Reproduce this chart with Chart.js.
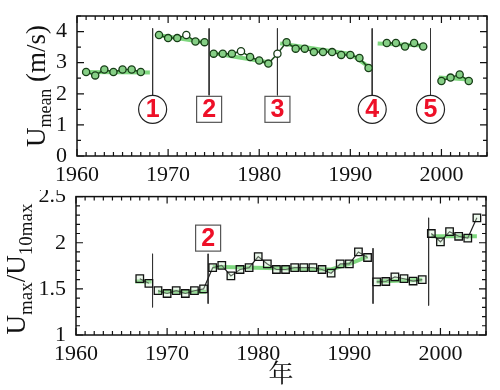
<!DOCTYPE html>
<html><head><meta charset="utf-8">
<script src="https://cdn.jsdelivr.net/npm/chart.js@4"></script>
<style>
html,body{margin:0;padding:0;background:#fff;width:500px;height:390px;overflow:hidden}
canvas{position:absolute;left:0}
#c1{top:0}#c2{top:190px}
</style></head><body>
<canvas id="c1" width="500" height="190"></canvas>
<canvas id="c2" width="500" height="200"></canvas>
<script>
// ---------- data ----------
const meanYears = [1961,1962,1963,1964,1965,1966,1967,
  1969,1970,1971,1972,1973,1974,
  1975,1976,1977,1978,1979,1980,1981,1982,1983,1984,1985,1986,1987,1988,1989,1990,1991,1992,
  1994,1995,1996,1997,1998,
  2000,2001,2002,2003];
const meanValues = [2.70,2.59,2.78,2.70,2.78,2.78,2.70,
  3.89,3.79,3.79,3.89,3.68,3.66,
  3.29,3.29,3.29,3.37,3.18,3.07,2.97,3.29,3.66,3.45,3.45,3.34,3.34,3.34,3.25,3.25,3.15,2.83,
  3.63,3.63,3.52,3.63,3.52,
  2.41,2.52,2.62,2.41];
const meanSegmentStarts = [1961,1969,1975,1994,2000];
const meanOpenYears = [1972,1978,1982];
const meanTrendYears = [[1960.6,1968],[1969,1974.3],[1975,1981.3],[1982.3,1990,1992],[1993,1998],[1999.7,2003]];
const meanTrendValues = [[2.70,2.68],[3.88,3.64],[3.30,3.00],[3.62,3.28,2.87],[3.62,3.55],[2.52,2.46]];
const meanBreakYears = [1968.3,1974.5,1982.0,1992.4,1998.8];
const meanBreakLabels = ['1','2','3','4','5'];
const meanBreakShapes = ['circle','box','box','circle','circle'];

const ratioYears = [1967,1968,
  1969,1970,1971,1972,1973,1974,1975,1976,1977,1978,1979,1980,1981,1982,1983,1984,1985,1986,1987,1988,1989,1990,1991,1992,
  1993,1994,1995,1996,1997,1998,
  1999,2000,2001,2002,2003,2004];
const ratioValues = [1.61,1.56,
  1.48,1.45,1.48,1.45,1.48,1.50,1.73,1.755,1.64,1.71,1.73,1.85,1.77,1.71,1.71,1.73,1.73,1.73,1.71,1.67,1.77,1.77,1.90,1.84,
  1.575,1.58,1.63,1.61,1.585,1.60,
  2.10,2.01,2.12,2.07,2.05,2.27];
const ratioSegmentStarts = [1967,1969,1993,1999];
const ratioTrendYears = [[1966.5,1968.3],[1969,1974.3],[1975,1988,1990,1992],[1993,1998],[1999,2004]];
const ratioTrendValues = [[1.58,1.58],[1.47,1.47],[1.74,1.71,1.77,1.85],[1.58,1.60],[2.07,2.07]];
const ratioBreakYears = [1968.4,1974.5,1992.6,1998.7];
const ratioBreakLow = [1.30,1.34,1.34,1.32];
const ratioBreakHigh = [1.88,1.88,1.94,2.27];
const ratioLabelYears = [1974.5];
const ratioLabelTexts = ['2'];

const xTickYears = [1960,1970,1980,1990,2000];

// ---------- helpers ----------
const SERIF = '"Liberation Serif"';
function splitSegments(xs, ys, starts){
  const segs=[]; let cur=null;
  xs.forEach((x,i)=>{ if(starts.includes(x)){cur=[];segs.push(cur);} cur.push({x:x,y:ys[i]}); });
  return segs;
}
function trendSets(tx, ty){
  return tx.map((arr,k)=>({type:'line',data:arr.map((x,i)=>({x:x,y:ty[k][i]})),
    borderColor:'rgba(95,205,95,0.8)',borderWidth:4,pointRadius:0,order:3,tension:0}));
}
function frameTicksPlugin(yMajor, yMinor, yMin, yMax){
  return {id:'frameTicks', afterDatasetsDraw(chart){
    const {ctx, chartArea:a, scales:{x,y}} = chart;
    ctx.save();
    ctx.strokeStyle='#111'; ctx.lineWidth=1.5;
    ctx.strokeRect(a.left,a.top,a.right-a.left,a.bottom-a.top);
    ctx.lineWidth=1.2; ctx.beginPath();
    for(let yr=1960; yr<=2005; yr++){
      const px=x.getPixelForValue(yr); const L=(yr%10===0)?7:4;
      ctx.moveTo(px,a.bottom); ctx.lineTo(px,a.bottom-L);
      ctx.moveTo(px,a.top); ctx.lineTo(px,a.top+L);
    }
    const n=Math.round((yMax-yMin)/yMinor);
    for(let i=0;i<=n;i++){
      const v=yMin+i*yMinor; const py=y.getPixelForValue(v);
      const r=v/yMajor; const L=(Math.abs(r-Math.round(r))<1e-6)?7:4;
      ctx.moveTo(a.left,py); ctx.lineTo(a.left+L,py);
      ctx.moveTo(a.right,py); ctx.lineTo(a.right-L,py);
    }
    ctx.stroke(); ctx.restore();
  }};
}
function drawLabel(ctx, px, py, txt, shape){
  ctx.save();
  if(shape==='circle'){
    ctx.beginPath(); ctx.arc(px,py,14,0,Math.PI*2);
    ctx.fillStyle='#fff'; ctx.fill(); ctx.strokeStyle='#222'; ctx.lineWidth=1.2; ctx.stroke();
  } else {
    ctx.fillStyle='#fff'; ctx.fillRect(px-12.5,py-13,25,26);
    ctx.strokeStyle='#555'; ctx.lineWidth=1.2; ctx.strokeRect(px-12.5,py-13,25,26);
  }
  ctx.fillStyle='#ee1028'; ctx.font='bold 25px "Liberation Sans"';
  ctx.textAlign='center'; ctx.textBaseline='middle';
  ctx.fillText(txt,px,py+1);
  ctx.restore();
}
function drawYTitle(ctx, bx, cy, parts){
  ctx.save();
  ctx.translate(bx,cy); ctx.rotate(-Math.PI/2);
  let total=0;
  parts.forEach(p=>{ctx.font=p.size+'px '+SERIF; p.w=ctx.measureText(p.t).width; total+=p.w;});
  let xx=-total/2;
  ctx.fillStyle='#111'; ctx.textBaseline='alphabetic'; ctx.textAlign='left';
  parts.forEach(p=>{ctx.font=p.size+'px '+SERIF; ctx.fillText(p.t,xx,p.dy||0); xx+=p.w;});
  ctx.restore();
}
function xScale(heightPx){
  return {type:'linear',min:1960,max:2005,
    afterBuildTicks(s){ s.ticks = xTickYears.map(v=>({value:v})); },
    afterFit(s){ s.height=heightPx; s.paddingLeft=0; s.paddingRight=0; },
    grid:{display:false,drawTicks:false}, border:{display:false},
    ticks:{padding:6,color:'#111',font:{family:SERIF,size:22},maxRotation:0,autoSkip:false,callback:v=>String(v)}};
}

// ---------- top chart ----------
const meanSegs = splitSegments(meanYears, meanValues, meanSegmentStarts);
const topSets = [];
meanSegs.forEach(seg=>topSets.push({type:'line',data:seg,borderColor:'#1d4f1d',borderWidth:1.5,
  pointRadius:3.6,pointBorderWidth:1.3,pointBorderColor:'#173d17',
  pointBackgroundColor:seg.map(p=>meanOpenYears.includes(p.x)?'#ffffff':'#86cf86'),order:0,tension:0}));
trendSets(meanTrendYears, meanTrendValues).forEach(d=>topSets.push(d));
meanBreakYears.forEach(yr=>topSets.push({type:'line',data:[{x:yr,y:4.1},{x:yr,y:1.95}],
  borderColor:'#333',borderWidth:1,pointRadius:0,order:1}));

new Chart(document.getElementById('c1'),{
  type:'line', data:{datasets:topSets},
  options:{responsive:false,animation:false,events:[],
    layout:{padding:{left:0,right:13,top:16,bottom:0}},
    plugins:{legend:{display:false},tooltip:{enabled:false}},
    scales:{
      x:xScale(34),
      y:{type:'linear',min:0,max:4.5,
        afterBuildTicks(s){ s.ticks=[0,1,2,3,4].map(v=>({value:v})); },
        afterFit(s){ s.width=77; s.paddingTop=0; s.paddingBottom=0; },
        grid:{display:false,drawTicks:false}, border:{display:false},
        ticks:{padding:10,color:'#111',font:{family:SERIF,size:22},callback:v=>String(v)}}
    }},
  plugins:[frameTicksPlugin(1,0.5,0,4.5),{id:'topExtras',afterDraw(chart){
    const {ctx,scales:{x,y}}=chart;
    meanBreakYears.forEach((yr,i)=>drawLabel(ctx,x.getPixelForValue(yr),y.getPixelForValue(1.5),meanBreakLabels[i],meanBreakShapes[i]));
    drawYTitle(ctx,45,86,[{t:'U',size:27},{t:'mean',size:18,dy:6},{t:' (m/s)',size:27}]);
  }}]
});

// ---------- bottom chart ----------
const ratioSegs = splitSegments(ratioYears, ratioValues, ratioSegmentStarts);
const botSets = [];
ratioSegs.forEach(seg=>botSets.push({type:'line',data:seg,borderColor:'#222',borderWidth:1.2,
  pointStyle:'rect',pointRadius:5.3,pointBorderWidth:1.3,pointBorderColor:'#111',
  pointBackgroundColor:'rgba(200,235,200,0.35)',order:0,tension:0}));
trendSets(ratioTrendYears, ratioTrendValues).forEach(d=>botSets.push(d));
ratioBreakYears.forEach((yr,i)=>botSets.push({type:'line',data:[{x:yr,y:ratioBreakHigh[i]},{x:yr,y:ratioBreakLow[i]}],
  borderColor:'#333',borderWidth:1,pointRadius:0,order:1}));

const xb = xScale(55);
xb.title = {display:true,text:'年',color:'#111',font:{family:'"Noto Serif CJK SC"',size:25},padding:{top:0,bottom:3}};
new Chart(document.getElementById('c2'),{
  type:'line', data:{datasets:botSets},
  options:{responsive:false,animation:false,events:[],
    layout:{padding:{left:0,right:14,top:4,bottom:0}},
    plugins:{legend:{display:false},tooltip:{enabled:false}},
    scales:{
      x:xb,
      y:{type:'linear',min:1,max:2.5,
        afterBuildTicks(s){ s.ticks=[1,1.5,2,2.5].map(v=>({value:v})); },
        afterFit(s){ s.width=76; s.paddingTop=0; s.paddingBottom=0; },
        grid:{display:false,drawTicks:false}, border:{display:false},
        ticks:{padding:10,color:'#111',font:{family:SERIF,size:22},callback:v=>String(v)}}
    }},
  plugins:[frameTicksPlugin(0.5,0.1,1,2.5),{id:'botExtras',afterDraw(chart){
    const {ctx,scales:{x,y}}=chart;
    ratioLabelYears.forEach((yr,i)=>drawLabel(ctx,x.getPixelForValue(yr),y.getPixelForValue(2.05),ratioLabelTexts[i],'box'));
    drawYTitle(ctx,25,79,[{t:'U',size:27},{t:'max',size:19,dy:7},{t:'/U',size:27},{t:'10max',size:19,dy:7}]);
  }}]
});
</script>
</body></html>
